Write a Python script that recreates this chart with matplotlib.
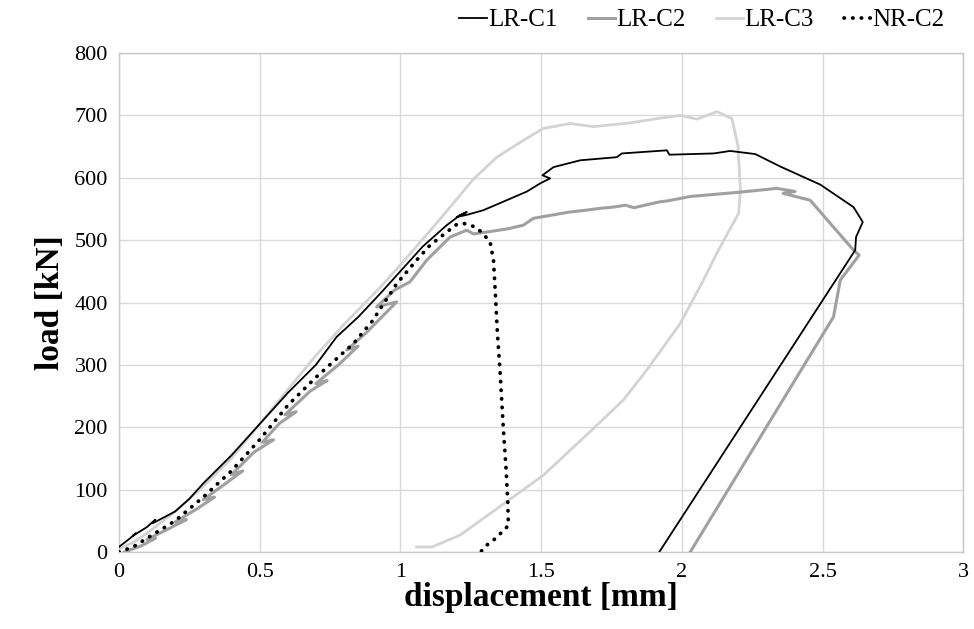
import matplotlib
matplotlib.use("Agg")
import matplotlib.pyplot as plt

plt.rcParams['font.family'] = ['Liberation Serif', 'DejaVu Serif']

# LR-C1 (black)
c1_x = [0, 0.04, 0.06, 0.05, 0.10, 0.13, 0.12, 0.20, 0.25, 0.30, 0.40, 0.50, 0.60, 0.70, 0.774, 0.851,
        0.93, 1.00, 1.08, 1.165, 1.212, 1.236, 1.20, 1.24, 1.295, 1.378, 1.45, 1.497, 1.532, 1.505, 1.544,
        1.639, 1.769, 1.787, 1.947, 1.956, 2.113, 2.172, 2.261, 2.35, 2.492, 2.61, 2.643, 2.619, 2.616, 1.92]
c1_y = [8, 22, 30, 26, 40, 52, 46, 65, 85, 110, 155, 205, 255, 300, 345, 377,
        415, 450, 490, 524, 540, 545, 537, 541, 548, 564, 578, 591, 599, 604, 617,
        628, 633, 639, 644, 637, 639, 643, 638, 618, 589, 553, 529, 505, 484, 0]

# LR-C2 (mid grey)
c2_x = [0.02, 0.08, 0.13, 0.10, 0.18, 0.24, 0.20, 0.28, 0.34, 0.30, 0.38, 0.44, 0.40, 0.48, 0.55, 0.51,
        0.57, 0.63, 0.59, 0.68, 0.74, 0.70, 0.78, 0.85, 0.81, 0.88, 0.987, 0.916, 0.98, 1.034, 1.094, 1.177,
        1.236, 1.26, 1.307, 1.38, 1.437, 1.473, 1.60, 1.66, 1.71, 1.757, 1.80, 1.83, 1.917, 1.95, 2.03,
        2.208, 2.338, 2.403, 2.36, 2.456, 2.61, 2.63, 2.563, 2.539, 2.03]
c2_y = [0, 10, 22, 20, 38, 52, 48, 70, 88, 84, 110, 130, 124, 160, 180, 176,
        206, 225, 220, 258, 275, 270, 300, 330, 324, 352, 401, 393, 420, 433, 468, 505,
        516, 510, 513, 518, 524, 535, 545, 548, 551, 553, 556, 552, 561, 563, 570,
        577, 583, 578, 575, 564, 484, 476, 436, 377, 0]

# LR-C3 (light grey)
c3_x = [0, 0.05, 0.10, 0.20, 0.30, 0.40, 0.50, 0.60, 0.70, 0.80, 0.93, 1.00, 1.10, 1.19, 1.26, 1.343,
        1.437, 1.508, 1.603, 1.686, 1.817, 1.90, 1.994, 2.054, 2.125, 2.178, 2.20, 2.208, 2.202, 2.13,
        2.077, 1.994, 1.876, 1.793, 1.686, 1.508, 1.354, 1.212, 1.112, 1.058]
c3_y = [5, 15, 30, 65, 105, 150, 205, 260, 315, 365, 425, 460, 512, 560, 598, 633,
        660, 679, 687, 682, 688, 694, 700, 694, 706, 695, 650, 580, 543, 484,
        436, 366, 292, 244, 198, 123, 73, 27, 8, 8]

# NR-C2 (dotted)
n2_x = [0, 0.05, 0.10, 0.20, 0.30, 0.40, 0.50, 0.60, 0.70, 0.833, 0.90, 0.987, 1.058, 1.106, 1.165, 1.20,
        1.224, 1.26, 1.289, 1.319, 1.331, 1.337, 1.345, 1.354, 1.366, 1.376, 1.382, 1.383, 1.384, 1.369,
        1.349, 1.331, 1.307, 1.285]
n2_y = [0, 8, 22, 50, 88, 130, 180, 235, 280, 334, 370, 430, 468, 492, 513, 525,
        527, 522, 513, 497, 468, 420, 350, 292, 198, 131, 78, 57, 43, 35,
        27, 19, 11, 0]

x_ticks = [0, 0.5, 1, 1.5, 2, 2.5, 3]
x_ticklabels = ['0', '0.5', '1', '1.5', '2', '2.5', '3']
y_ticks = [0, 100, 200, 300, 400, 500, 600, 700, 800]

fig = plt.figure(figsize=(9.74, 6.29), dpi=100)
ax = fig.add_axes([0.122, 0.1224, 0.867, 0.7933])

ax.plot(c1_x, c1_y, color='black', lw=1.3, label='LR-C1', zorder=4)
ax.plot(c2_x, c2_y, color='#a0a0a0', lw=2.2, label='LR-C2', zorder=3)
ax.plot(c3_x, c3_y, color='#d3d3d3', lw=2.0, label='LR-C3', zorder=2)
ax.plot(n2_x, n2_y, color='black', lw=2.7, linestyle=(0, (0.1, 2.2)), dash_capstyle='round',
        label='NR-C2', zorder=5)

ax.set_xlim(0, 3)
ax.set_ylim(0, 800)
ax.set_xticks(x_ticks)
ax.set_xticklabels(x_ticklabels)
ax.set_yticks(y_ticks)
ax.tick_params(length=0, labelsize=16, pad=8)
ax.grid(True, color='#d9d9d9', lw=1)
ax.set_axisbelow(True)
for s in ax.spines.values():
    s.set_color('#c8c8c8')
    s.set_linewidth(1)

ax.set_xlabel('displacement [mm]', fontsize=24, fontweight='bold', labelpad=0)
ax.set_ylabel('load [kN]', fontsize=24, fontweight='bold', labelpad=6)

fig.legend(loc='center right', bbox_to_anchor=(0.993, 0.968), ncol=4, frameon=False,
           fontsize=18, handlelength=1.1, handletextpad=0.05, columnspacing=1.2)

fig.savefig('out.png', dpi=100)
